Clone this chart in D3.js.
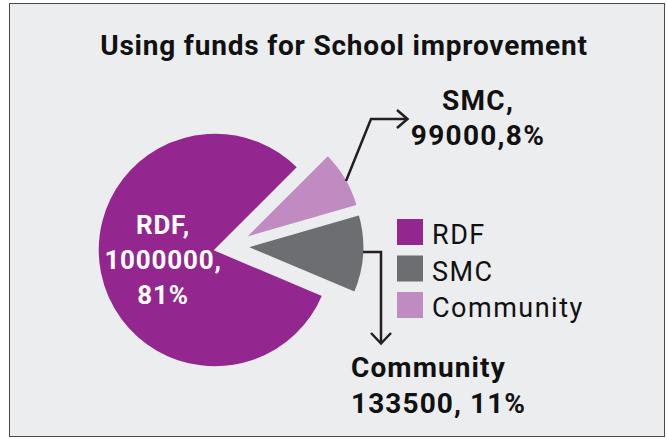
<!DOCTYPE html>
<html>
<head>
<meta charset="utf-8">
<script src="https://cdn.jsdelivr.net/npm/d3@7"></script>
<style>
  body { margin: 0; background: #ffffff; }
  svg { display: block; }
  text { font-family: Roboto, "Noto Sans", sans-serif; }
</style>
</head>
<body>
<div id="chart"></div>
<script>
// data
var sliceNames = ["SMC", "Community", "RDF"];
var sliceValues = [99000, 133500, 1000000];
var slicePercents = ["8%", "11%", "81%"];
var sliceLabels = [
  ["SMC,", "99000,8%"],
  ["Community", "133500, 11%"],
  ["RDF,", "1000000,", "81%"]
];
var legendNames = ["RDF", "SMC", "Community"];
var titleText = "Using funds for School improvement";

var width = 667, height = 439;

// slice colours as drawn (legend keeps its own order)
var colorOf = { RDF: "#93268f", SMC: "#c08bc0", Community: "#6d6e72" };
var legendColor = { RDF: "#93268f", SMC: "#6d6e72", Community: "#c08bc0" };
// exploded slices
var explode = { SMC: [30, -12], Community: [32, -3], RDF: [0, 0] };

var svg = d3.select("#chart")
  .append("svg")
  .attr("width", width)
  .attr("height", height);

svg.append("rect")
  .attr("x", 9.5)
  .attr("y", 3.5)
  .attr("width", 655)
  .attr("height", 433)
  .attr("fill", "#ecedef")
  .attr("stroke", "#4a4a4a")
  .attr("stroke-width", 1);

svg.append("text")
  .attr("x", 344)
  .attr("y", 55)
  .attr("text-anchor", "middle")
  .attr("font-size", 28)
  .attr("font-weight", "bold")
  .attr("letter-spacing", 0.8)
  .attr("fill", "#111")
  .text(titleText);

var data = sliceNames.map(function (n, i) {
  return { name: n, value: sliceValues[i], pct: slicePercents[i], lines: sliceLabels[i] };
});

var pie = d3.pie()
  .sort(null)
  .value(function (d) { return d.value; })
  .startAngle(Math.PI / 4)
  .endAngle(Math.PI / 4 + 2 * Math.PI);

var arc = d3.arc().innerRadius(0).outerRadius(117);

var pieG = svg.append("g")
  .attr("transform", "translate(215,250)");

var arcs = pie(data);

pieG.selectAll("path.slice")
  .data(arcs)
  .enter()
  .append("path")
  .attr("class", "slice")
  .attr("transform", function (d) {
    var o = explode[d.data.name];
    return "translate(" + o[0] + "," + o[1] + ")";
  })
  .attr("d", arc)
  .attr("fill", function (d) { return colorOf[d.data.name]; })
  .attr("stroke", "#ecedef")
  .attr("stroke-width", 1.5);

// RDF label inside slice
var rdf = data[2];
svg.append("text")
  .attr("x", 162)
  .attr("y", 234)
  .attr("text-anchor", "middle")
  .attr("font-size", 26)
  .attr("font-weight", "bold")
  .attr("letter-spacing", 0.8)
  .attr("fill", "#ffffff")
  .selectAll("tspan")
  .data(rdf.lines)
  .enter()
  .append("tspan")
  .attr("x", 163)
  .attr("dy", function (d, i) { return i === 0 ? 0 : 35; })
  .text(function (d) { return d; });

// callouts
var lineG = svg.append("g")
  .attr("fill", "none")
  .attr("stroke", "#231f20")
  .attr("stroke-width", 2.5);

lineG.append("polyline")
  .attr("points", "346,181 371,119 407,119");
lineG.append("polyline")
  .attr("points", "397,110 407.5,119 397,128");

lineG.append("polyline")
  .attr("points", "363,252 381,252 381,343");
lineG.append("polyline")
  .attr("points", "371,333 381,343.5 391,333");

svg.append("text")
  .attr("x", 478)
  .attr("y", 110)
  .attr("text-anchor", "middle")
  .attr("font-size", 28)
  .attr("font-weight", "bold")
  .attr("letter-spacing", 1.3)
  .attr("fill", "#111")
  .selectAll("tspan")
  .data(data[0].lines)
  .enter()
  .append("tspan")
  .attr("x", 478)
  .attr("dy", function (d, i) { return i === 0 ? 0 : 35; })
  .text(function (d) { return d; });

svg.append("text")
  .attr("x", 351)
  .attr("y", 377)
  .attr("font-size", 28)
  .attr("font-weight", "bold")
  .attr("letter-spacing", 1.1)
  .attr("fill", "#111")
  .selectAll("tspan")
  .data(data[1].lines)
  .enter()
  .append("tspan")
  .attr("x", 351)
  .attr("dy", function (d, i) { return i === 0 ? 0 : 36; })
  .text(function (d) { return d; });

// legend
var legend = svg.append("g")
  .attr("transform", "translate(397,219)");

var items = legend.selectAll("g.item")
  .data(legendNames)
  .enter()
  .append("g")
  .attr("class", "item")
  .attr("transform", function (d, i) { return "translate(0," + (i * 36.5) + ")"; });

items.append("rect")
  .attr("width", 26)
  .attr("height", 26)
  .attr("fill", function (d) { return legendColor[d]; });

items.append("text")
  .attr("x", 35)
  .attr("y", 25)
  .attr("font-size", 27)
  .attr("letter-spacing", 1.5)
  .attr("fill", "#111")
  .text(function (d) { return d; });
</script>
</body>
</html>
